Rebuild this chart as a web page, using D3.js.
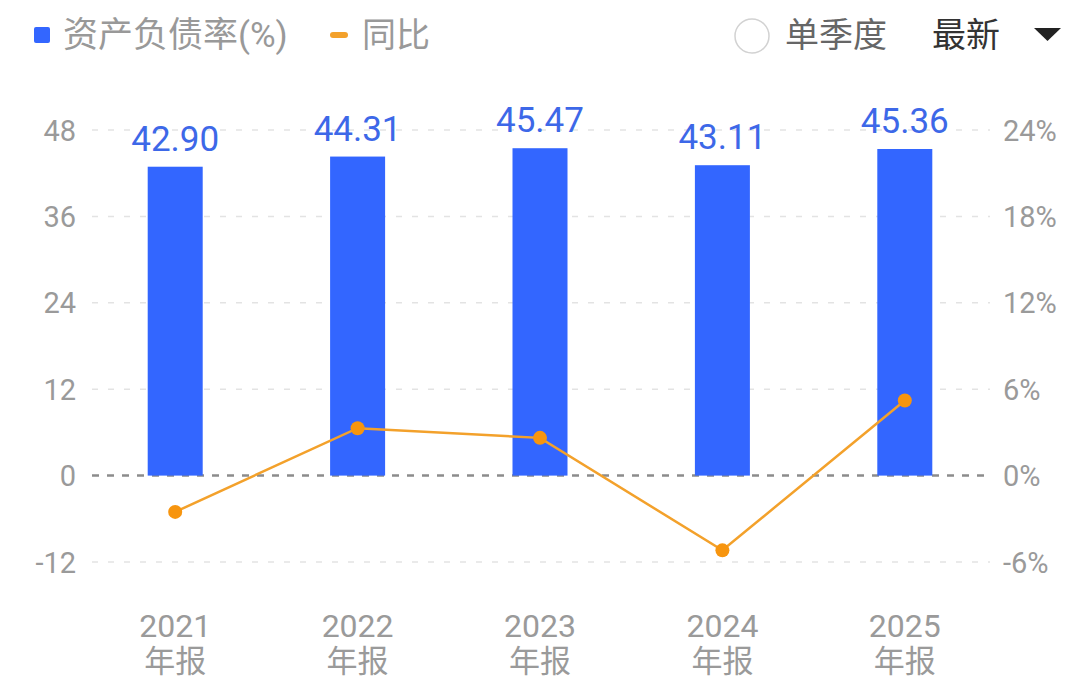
<!DOCTYPE html>
<html>
<head>
<meta charset="utf-8">
<script src="https://cdn.jsdelivr.net/npm/d3@7"></script>
<style>
  body { margin: 0; background: #fff; }
  text { font-family: Roboto, "Noto Sans CJK SC", sans-serif; }
</style>
</head>
<body>
<div id="chart"></div>
<script>
// data
var years = ["2021", "2022", "2023", "2024", "2025"];
var periodLabel = "年报";
var debtRatio = [42.90, 44.31, 45.47, 43.11, 45.36];
var yoy = [-2.52, 3.29, 2.62, -5.19, 5.22];
var leftTicks = [-12, 0, 12, 24, 36, 48];
var rightTicks = [-6, 0, 6, 12, 18, 24];

var W = 1080, H = 688;
var svg = d3.select("#chart").append("svg")
    .attr("width", W).attr("height", H);

var x = d3.scaleBand().domain(years).range([84, 996]).padding(0);
var y = d3.scaleLinear().domain([-12, 48]).range([562, 130]);
var y2 = d3.scaleLinear().domain([-6, 24]).range([562, 130]);
var barW = 55;

// gridlines
svg.append("g").selectAll("line")
    .data(leftTicks)
    .enter().append("line")
    .attr("x1", 92).attr("x2", 990)
    .attr("y1", function(d) { return y(d); })
    .attr("y2", function(d) { return y(d); })
    .attr("stroke", function(d) { return d === 0 ? "#8c8c8c" : "#e3e3e3"; })
    .attr("stroke-width", function(d) { return d === 0 ? 2.5 : 1.5; })
    .attr("stroke-dasharray", function(d) { return d === 0 ? "7,8" : "6,10"; });

// left axis
var yAxis = d3.axisLeft(y).tickValues(leftTicks).tickSize(0).tickPadding(0)
    .tickFormat(function(d) { return String(d); });
var gl = svg.append("g").attr("transform", "translate(76,0)").call(yAxis);
gl.select(".domain").remove();
gl.selectAll("text").attr("fill", "#9a9a9a").style("font-size", "29px").attr("dy", "0.35em");

// right axis
var y2Axis = d3.axisRight(y2).tickValues(rightTicks).tickSize(0).tickPadding(0)
    .tickFormat(function(d) { return d + "%"; });
var gr = svg.append("g").attr("transform", "translate(1003,0)").call(y2Axis);
gr.select(".domain").remove();
gr.selectAll("text").attr("fill", "#9a9a9a").style("font-size", "29px").attr("dy", "0.35em");

// bars
svg.append("g").selectAll("rect")
    .data(debtRatio)
    .enter().append("rect")
    .attr("x", function(d, i) { return x(years[i]) + x.bandwidth() / 2 - barW / 2; })
    .attr("y", function(d) { return y(d); })
    .attr("width", barW)
    .attr("height", function(d) { return y(0) - y(d); })
    .attr("fill", "#3366ff");

// bar value labels
svg.append("g").selectAll("text")
    .data(debtRatio)
    .enter().append("text")
    .attr("x", function(d, i) { return x(years[i]) + x.bandwidth() / 2; })
    .attr("y", function(d) { return y(d) - 16; })
    .attr("text-anchor", "middle")
    .attr("fill", "#3d68e8")
    .style("font-size", "35px")
    .text(function(d) { return d.toFixed(2); });

// yoy line
var line = d3.line()
    .x(function(d, i) { return x(years[i]) + x.bandwidth() / 2; })
    .y(function(d) { return y2(d); });
svg.append("path")
    .datum(yoy)
    .attr("d", line)
    .attr("fill", "none")
    .attr("stroke", "#f3a12b")
    .attr("stroke-width", 2.5);
svg.append("g").selectAll("circle")
    .data(yoy)
    .enter().append("circle")
    .attr("cx", function(d, i) { return x(years[i]) + x.bandwidth() / 2; })
    .attr("cy", function(d) { return y2(d); })
    .attr("r", 7)
    .attr("fill", "#f7950f");

// x labels
var xl = svg.append("g").selectAll("g")
    .data(years)
    .enter().append("g")
    .attr("transform", function(d) { return "translate(" + (x(d) + x.bandwidth() / 2) + ",0)"; });
xl.append("text").attr("y", 637).attr("text-anchor", "middle")
    .attr("fill", "#9a9a9a").style("font-size", "32px").text(function(d) { return d; });
xl.append("text").attr("y", 672).attr("text-anchor", "middle")
    .attr("fill", "#9a9a9a").style("font-size", "31px").text(periodLabel);

// legend
svg.append("rect").attr("x", 34).attr("y", 27).attr("width", 16).attr("height", 16)
    .attr("rx", 2).attr("fill", "#3366ff");
svg.append("text").attr("x", 63).attr("y", 47).attr("fill", "#999")
    .style("font-size", "35px").text("资产负债率(%)");
svg.append("rect").attr("x", 330).attr("y", 32).attr("width", 18).attr("height", 6)
    .attr("rx", 3).attr("fill", "#f3a12b");
svg.append("text").attr("x", 362).attr("y", 47).attr("fill", "#999")
    .style("font-size", "34px").text("同比");

// top-right controls
svg.append("circle").attr("cx", 752).attr("cy", 36).attr("r", 17)
    .attr("fill", "none").attr("stroke", "#d2d2d2").attr("stroke-width", 1.5);
svg.append("text").attr("x", 785).attr("y", 47).attr("fill", "#666")
    .style("font-size", "34px").text("单季度");
svg.append("text").attr("x", 932).attr("y", 47).attr("fill", "#333")
    .style("font-size", "34px").text("最新");
svg.append("path").attr("d", "M1034,28 L1061,28 L1047.5,41 Z").attr("fill", "#222");
</script>
</body>
</html>
